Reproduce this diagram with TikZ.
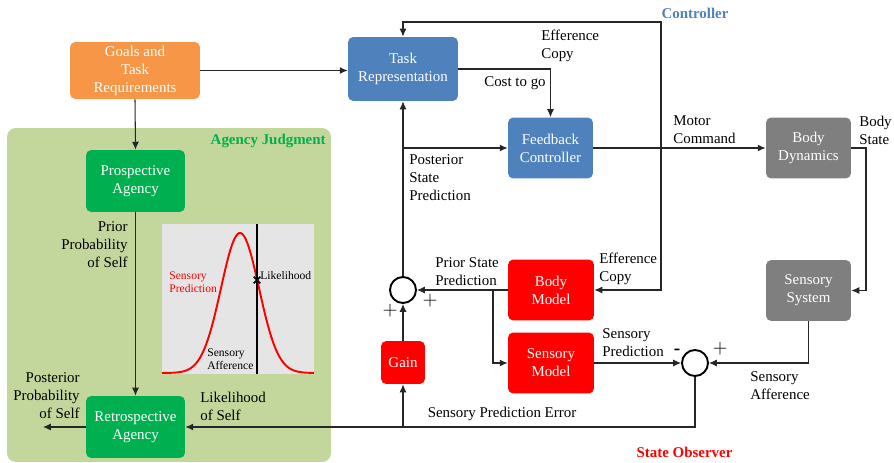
\documentclass[tikz,border=0pt]{standalone}
\usepackage{fontspec}
\setmainfont{Liberation Serif}
\usepackage{xcolor}
\usepackage{tikz}
\usetikzlibrary{shapes,arrows,positioning,calc,arrows.meta}

\definecolor{goalorange}{HTML}{F79646}
\definecolor{agencygreen}{HTML}{00B050}
\definecolor{judgbg}{HTML}{C3D69B}
\definecolor{ctrlblue}{HTML}{4F81BD}
\definecolor{plantgray}{HTML}{7F7F7F}
\definecolor{obsred}{HTML}{FF0000}

\begin{document}
\begin{tikzpicture}[x=0.02cm, y=-0.02cm,
        >={Latex[length=4.5pt,width=4pt]},
        wire/.style={line width=0.6pt, draw=black!85},
        blk/.style={rounded corners=3pt, text=white, align=center, inner sep=0pt,
            font=\fontsize{8.5}{10.2}\selectfont},
        lbl/.style={inner sep=0pt, font=\fontsize{8.5}{10.2}\selectfont},
        title/.style={inner sep=0pt, font=\fontsize{8.5}{10.2}\selectfont\bfseries},
        sign/.style={inner sep=0pt, font=\fontsize{11}{12}\selectfont},
        summer/.style={circle, draw, line width=1.1pt, minimum size=0.52cm, inner sep=0pt},
        small/.style={inner sep=0pt, font=\fontsize{6.6}{7.4}\selectfont}]
        \useasboundingbox (0,0) rectangle (894,463);

        % agency judgment panel
        \node[fill=judgbg, rounded corners=5pt, inner sep=0pt,
            minimum width=6.48cm, minimum height=6.68cm] (judgment) at (169,295) {};
        \node[title, text=agencygreen, anchor=east] (judgtitle) at (326,141) {Agency Judgment};

        % blocks
        \node[blk, fill=goalorange, minimum width=2.6cm, minimum height=1.14cm] (goals) at (135,70.5) {Goals and\\Task\\Requirements};
        \node[blk, fill=agencygreen, minimum width=1.98cm, minimum height=1.24cm] (prosp) at (135.5,181) {Prospective\\Agency};
        \node[blk, fill=agencygreen, minimum width=1.98cm, minimum height=1.24cm] (retro) at (135.5,427) {Retrospective\\Agency};
        \node[blk, fill=ctrlblue, minimum width=2.2cm, minimum height=1.28cm] (task) at (403,69) {Task\\Representation};
        \node[blk, fill=ctrlblue, minimum width=1.7cm, minimum height=1.22cm] (fbc) at (550.5,148) {Feedback\\Controller};
        \node[blk, fill=plantgray, minimum width=1.7cm, minimum height=1.22cm] (bdyn) at (808.5,148) {Body\\Dynamics};
        \node[blk, fill=plantgray, minimum width=1.7cm, minimum height=1.22cm] (ssys) at (808.5,290.5) {Sensory\\System};
        \node[blk, fill=obsred, minimum width=1.72cm, minimum height=1.22cm] (bmod) at (551,290) {Body\\Model};
        \node[blk, fill=obsred, minimum width=1.72cm, minimum height=1.22cm] (smod) at (551,363) {Sensory\\Model};
        \node[blk, fill=obsred, minimum width=0.88cm, minimum height=0.86cm] (gain) at (403,362.5) {Gain};
        \node[summer] (sum) at (403,290) {};
        \node[summer] (cmp) at (695,363) {};

        \coordinate (ec) at (661,148);
        \coordinate (ectop) at (661,22);
        \coordinate (bscorner) at (866,148);
        \coordinate (psbranch) at (493,290);
        \coordinate (postout) at (43,427);

        % connectors
        \draw[wire,->] (goals.east) -- (goals.east -| task.west);
        \draw[wire,->] (goals.south) -- (prosp.north);
        \draw[wire,->] (prosp.south) -- (retro.north);
        \draw[wire,->] (retro.west) -- (postout);
        \draw[wire,->] (task.east) -| (fbc.north);
        \draw[wire,->] (fbc.east) -- (bdyn.west);
        \draw[wire,->] (ec) -- (ectop) -| (task.north);
        \draw[wire,->] (ec) |- (bmod.east);
        \draw[wire,->] (bdyn.east) -- (bscorner) |- (ssys.east);
        \draw[wire,->] (ssys.south) |- (cmp.east);
        \draw[wire,->] (smod.east) -- (cmp.west);
        \draw[wire,->] (cmp.south) |- (retro.east);
        \draw[wire,->] (gain |- retro.east) -- (gain.south);
        \draw[wire,->] (gain.north) -- (sum.south);
        \draw[wire,->] (bmod.west) -- (sum.east);
        \draw[wire,->] (psbranch) |- (smod.west);
        \draw[wire,->] (sum.north) -- (task.south);
        \draw[wire,->] (sum.north |- fbc.west) -- (fbc.west);

        % labels
        \node[title, text=ctrlblue] (ctrltitle) at (695,13) {Controller};
        \node[title, text=obsred] (obstitle) at (684.5,452) {State Observer};
        \node[lbl, align=left, anchor=west] (ectoplbl) at (541,46) {Efference\\Copy};
        \node[lbl] (costlbl) at (515,83) {Cost to go};
        \node[lbl, align=left, anchor=west] (postlbl) at (409,178) {Posterior\\State\\Prediction};
        \node[lbl, align=left, anchor=west] (motorlbl) at (673,130) {Motor\\Command};
        \node[lbl, align=left, anchor=west] (bstatelbl) at (859,130) {Body\\State};
        \node[lbl, align=left, anchor=west] (ecbotlbl) at (599,269) {Efference\\Copy};
        \node[lbl, align=left, anchor=west] (priorlbl) at (435,271.5) {Prior State\\Prediction};
        \node[lbl, align=left, anchor=west] (spredlbl) at (602,343) {Sensory\\Prediction};
        \node[lbl, align=left, anchor=west] (saffllbl) at (750,386) {Sensory\\Afference};
        \node[lbl] (errlbl) at (502,414) {Sensory Prediction Error};
        \node[sign] (plusa) at (390,311) {$+$};
        \node[sign] (plusb) at (430,301) {$+$};
        \node[sign, font=\fontsize{11}{12}\selectfont\bfseries] (minus) at (677,352) {-};
        \node[sign] (plusc) at (720,349) {$+$};
        \node[lbl, align=right, anchor=east] (priorplbl) at (128,244.5) {Prior\\Probability\\of Self};
        \node[lbl, align=right, anchor=east] (postplbl) at (80,396) {Posterior\\Probability\\of Self};
        \node[lbl, align=left, anchor=west] (likeslbl) at (200,406) {Likelihood\\of Self};

        % likelihood inset
        \fill[black!10] (162,224) rectangle (314,374);
        \draw[obsred, line width=1.1pt, domain=162:314, samples=90]
            plot (\x, {373-140*exp(-((\x-240)^2)/722)});
        \draw[line width=0.9pt] (257,224) -- (257,374);
        \node[cross out, draw, line width=0.9pt, minimum size=0.1cm, inner sep=0pt] (lkmark) at (257,280) {};
        \node[small, anchor=west] (lklbl) at (260,276) {Likelihood};
        \node[small, text=obsred, align=left, anchor=west] (spinlbl) at (169,282.5) {Sensory\\Prediction};
        \node[small, align=left, anchor=west] (safinlbl) at (207,359.5) {Sensory\\Afference};
\end{tikzpicture}
\end{document}
